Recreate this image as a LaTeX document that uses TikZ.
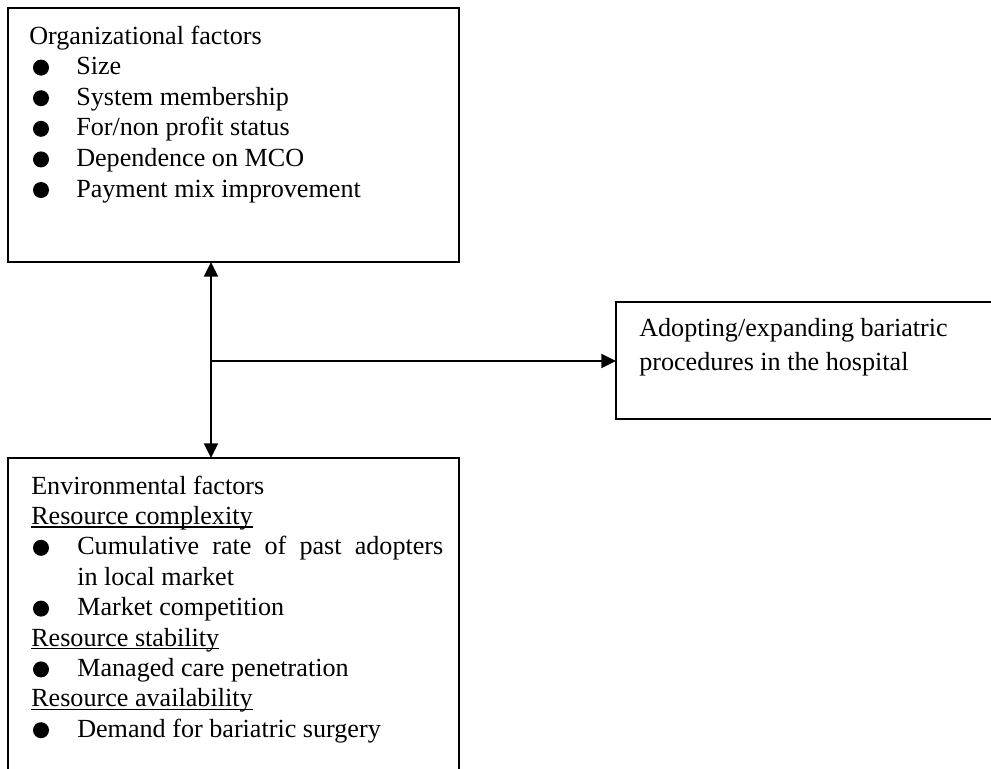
\documentclass[tikz,border=0pt]{standalone}
\usepackage{fontspec}
\setmainfont{Liberation Serif}
\usetikzlibrary{arrows.meta}
\newcommand\myul[1]{\leavevmode\setbox0\hbox{#1}\rlap{\rule[-2.4pt]{\wd0}{0.9pt}}\box0}
\begin{document}
\begin{tikzpicture}[x=0.75pt,y=-0.75pt,
  box/.style={draw, line width=1.5pt, rectangle, inner sep=0pt, outer sep=0pt},
  txt/.style={anchor=base west, inner sep=0pt, font=\fontsize{19.6}{22.8}\selectfont},
  bul/.style={fill, circle, inner sep=0pt, minimum size=12pt},
  tip/.tip={Triangle[length=11pt,width=10.5pt]},
  arr/.style={line width=1.5pt, -tip},
  biarr/.style={line width=1.5pt, tip-tip}]
\useasboundingbox (0,0) rectangle (991,768);
\fill[white] (0,0) rectangle (991,768);
\clip (0,0) rectangle (991,768);

% boxes
\node[box, minimum width=338.25pt, minimum height=190.5pt] (org) at (233.5,135) {};
\node[box, minimum width=338.25pt, minimum height=256.5pt] (env) at (233.5,629) {};
\node[box, minimum width=295.5pt, minimum height=87.75pt] (out) at (813,360.5) {};

% organizational factors
\node[txt] (o0) at (29,44) {Organizational factors};
\foreach \i/\y/\t in {1/74.6/{Size}, 2/105.2/{System membership}, 3/135.8/{For/non profit status}, 4/166.4/{Dependence on MCO}, 5/197/{Payment mix improvement}}{
  \node[bul] (ob\i) at (41,\y-7) {};
  \node[txt] (o\i) at (76,\y) {\t};
}

% environmental factors
\node[txt] (e0) at (31,494) {Environmental factors};
\node[txt] (e1) at (31,524.4) {\myul{Resource complexity}};
\node[bul] (eb2) at (41,547.8) {};
\node[txt] (e2) at (77,554.8) {\makebox[274.5pt][s]{Cumulative rate of past adopters}};
\node[txt] (e3) at (77,585.2) {in local market};
\node[bul] (eb4) at (41,608.6) {};
\node[txt] (e4) at (77,615.6) {Market competition};
\node[txt] (e5) at (31,646) {\myul{Resource stability}};
\node[bul] (eb6) at (41,669.4) {};
\node[txt] (e6) at (77,676.4) {Managed care penetration};
\node[txt] (e7) at (31,706.8) {\myul{Resource availability}};
\node[bul] (eb8) at (41,730.2) {};
\node[txt] (e8) at (77,737.2) {Demand for bariatric surgery};

% outcome
\node[txt] (r1) at (639,336) {Adopting/expanding bariatric};
\node[txt] (r2) at (639,370) {procedures in the hospital};

% connectors
\coordinate (j) at (211,361);
\draw[biarr] (j |- org.south) -- (j |- env.north);
\draw[arr] (j) -- (j -| out.west);
\end{tikzpicture}
\end{document}
